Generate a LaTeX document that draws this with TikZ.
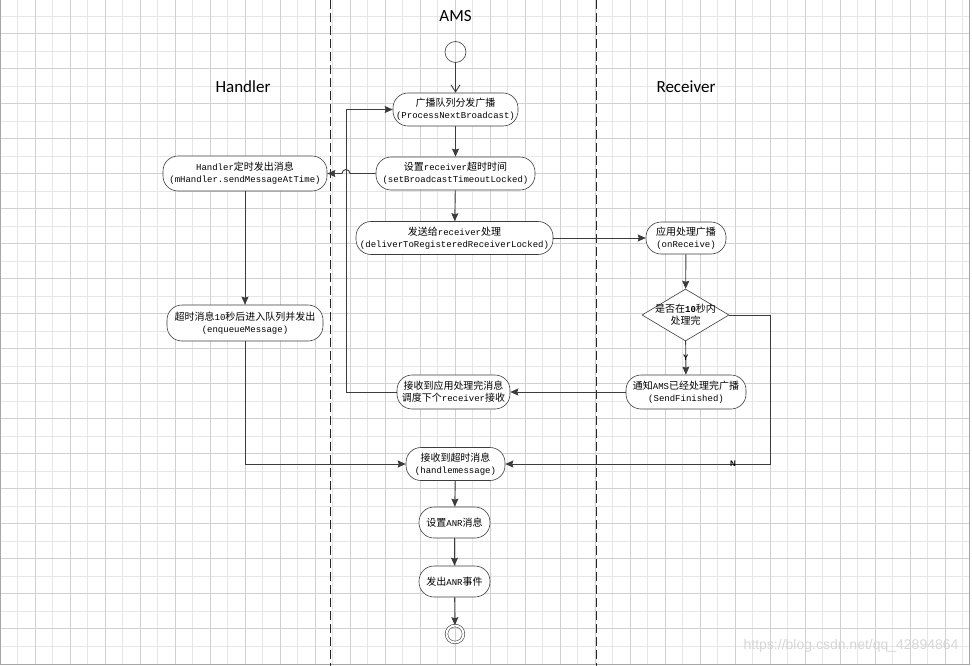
\documentclass[tikz,border=0pt]{standalone}
\usepackage{fontspec}
\setmainfont{Liberation Mono}
\newfontfamily\cjk[Scale=1.11]{Noto Sans CJK SC}
\newfontfamily\lanefont{Carlito}
\newfontfamily\markfont{Liberation Sans}
\usetikzlibrary{shapes.geometric, arrows.meta, calc}
\newcommand{\zh}[1]{{\cjk #1}}

\definecolor{gridminor}{HTML}{E6E6E6}
\definecolor{gridmajor}{HTML}{D0D0D0}
\definecolor{ink}{HTML}{3C3C3C}

\begin{document}
\begin{tikzpicture}[
  x=1pt, y=-1pt,
  every node/.style={font=\fontsize{9}{12}\selectfont, text=black},
  act/.style={rectangle, draw=ink, rounded corners=15pt, line width=0.6pt,
    fill=white, minimum height=33pt, inner sep=1pt, align=center},
  flow/.style={draw=ink, line width=0.9pt, -{Stealth[length=8pt, width=7pt, inset=1pt]}},
  lane/.style={font=\lanefont\fontsize{17}{20}\selectfont},
  branch/.style={font=\markfont\bfseries\fontsize{8}{9}\selectfont, inner sep=1pt},
  swim/.style={dash pattern=on 9pt off 4pt, line width=0.8pt, black!85}
]
\useasboundingbox (0,0) rectangle (972,666);

% background grid
\foreach \i in {1,...,55} \draw[gridminor, line width=0.8pt] ({17.5*\i},0) -- ({17.5*\i},664);
\foreach \i in {1,...,37} \draw[gridminor, line width=0.8pt] (0,{17.5*\i-1.2}) -- (969,{17.5*\i-1.2});
\foreach \i in {1,...,27} \draw[gridmajor, line width=0.8pt] ({35*\i},0) -- ({35*\i},664);
\foreach \i in {1,...,18} \draw[gridmajor, line width=0.8pt] (0,{35*\i-1.2}) -- (969,{35*\i-1.2});
\draw[black!35, line width=1pt] (0.5,0) -- (0.5,664) -- (969,664) -- (969,0);

% swimlanes
\draw[swim] (330,0) -- (330,666);
\draw[swim] (596,0) -- (596,666);
\node[lane] (amsT) at (455.5,16) {AMS};
\node[lane] (handlerT) at (243,87) {Handler};
\node[lane] (receiverT) at (686,87) {Receiver};

% AMS lane
\node[circle, draw=ink, line width=0.6pt, minimum size=21pt, inner sep=0pt] (start) at (455.5,52) {};
\node[act, minimum width=125pt] (bcast) at (455.5,109.5) {\zh{广播队列分发广播}\\(ProcessNextBroadcast)};
\node[act, minimum width=159pt] (timeout) at (455.5,173.5) {\zh{设置}receiver\zh{超时时间}\\(setBroadcastTimeoutLocked)};
\node[act, minimum width=197pt] (deliver) at (454.5,238) {\zh{发送给}receiver\zh{处理}\\(deliverToRegisteredReceiverLocked)};
\node[act, minimum width=113pt, minimum height=34pt] (finish) at (453.5,392) {\zh{接收到应用处理完消息}\\\zh{调度下个}receiver\zh{接收}};
\node[act, minimum width=99pt] (anrin) at (455.5,464) {\zh{接收到超时消息}\\(handlemessage)};
\node[act, minimum width=71pt, minimum height=31pt] (anrset) at (454.5,522.5) {\zh{设置}ANR\zh{消息}};
\node[act, minimum width=71pt, minimum height=31pt] (anrfire) at (454.5,581.5) {\zh{发出}ANR\zh{事件}};
\node[circle, draw=ink, line width=0.6pt, double=white, double distance=2pt, minimum size=17pt, inner sep=0pt] (stop) at (455,634) {};

% Handler lane
\node[act, minimum width=164pt, minimum height=35pt] (hsend) at (245,173.5) {Handler\zh{定时发出消息}\\(mHandler.sendMessageAtTime)};
\node[act, minimum width=156pt, minimum height=36pt] (hqueue) at (245,323) {\zh{超时消息}10\zh{秒后进入队列并发出}\\(enqueueMessage)};

% Receiver lane
\node[act, minimum width=80pt, minimum height=32pt] (onrecv) at (686,238) {\zh{应用处理广播}\\(onReceive)};
\node[diamond, draw=ink, line width=0.6pt, fill=white, minimum width=87pt, minimum height=52pt, inner sep=0pt,
  label={[align=center]center:\zh{是否在}\textbf{10}\zh{秒内}\\\zh{处理完}}] (chk) at (685.5,315) {};
\node[act, minimum width=120pt, minimum height=34pt] (sendfin) at (686,392) {\zh{通知}AMS\zh{已经处理完广播}\\(SendFinished)};

\coordinate (hop) at (346,173.5);
\coordinate (nturn) at (770,315);

% connectors
\draw[draw=ink, line width=0.9pt, -{Straight Barb[length=7pt, width=9pt]}] (start) -- (bcast);
\draw[flow] (bcast) -- (timeout);
\draw[flow] (timeout.west) -- ($(hop)+(4,0)$) arc[start angle=0, end angle=-180, radius=4] -- (hsend.east);
\draw[flow] (timeout) -- (deliver);
\draw[flow] (deliver) -- (onrecv);
\draw[flow] (onrecv) -- (chk);
\draw[flow] (chk) -- node[branch] {Y} (sendfin);
\draw[flow] (chk.east) -- (nturn) |- node[branch, pos=0.57] {N} (anrin.east);
\draw[flow] (sendfin) -- (finish);
\draw[flow] (finish.west) -- (finish.west -| hop) |- (bcast.west);
\draw[flow] (hsend) -- (hqueue);
\draw[flow] (hqueue.south) |- (anrin.west);
\draw[flow] (anrin) -- (anrset);
\draw[flow] (anrset) -- (anrfire);
\draw[flow] (anrfire) -- (stop);

\node[font=\markfont\fontsize{14}{16}\selectfont, text=black!16, anchor=east] (wm) at (962,646) {https://blog.csdn.net/qq\_42894864};
\end{tikzpicture}
\end{document}
